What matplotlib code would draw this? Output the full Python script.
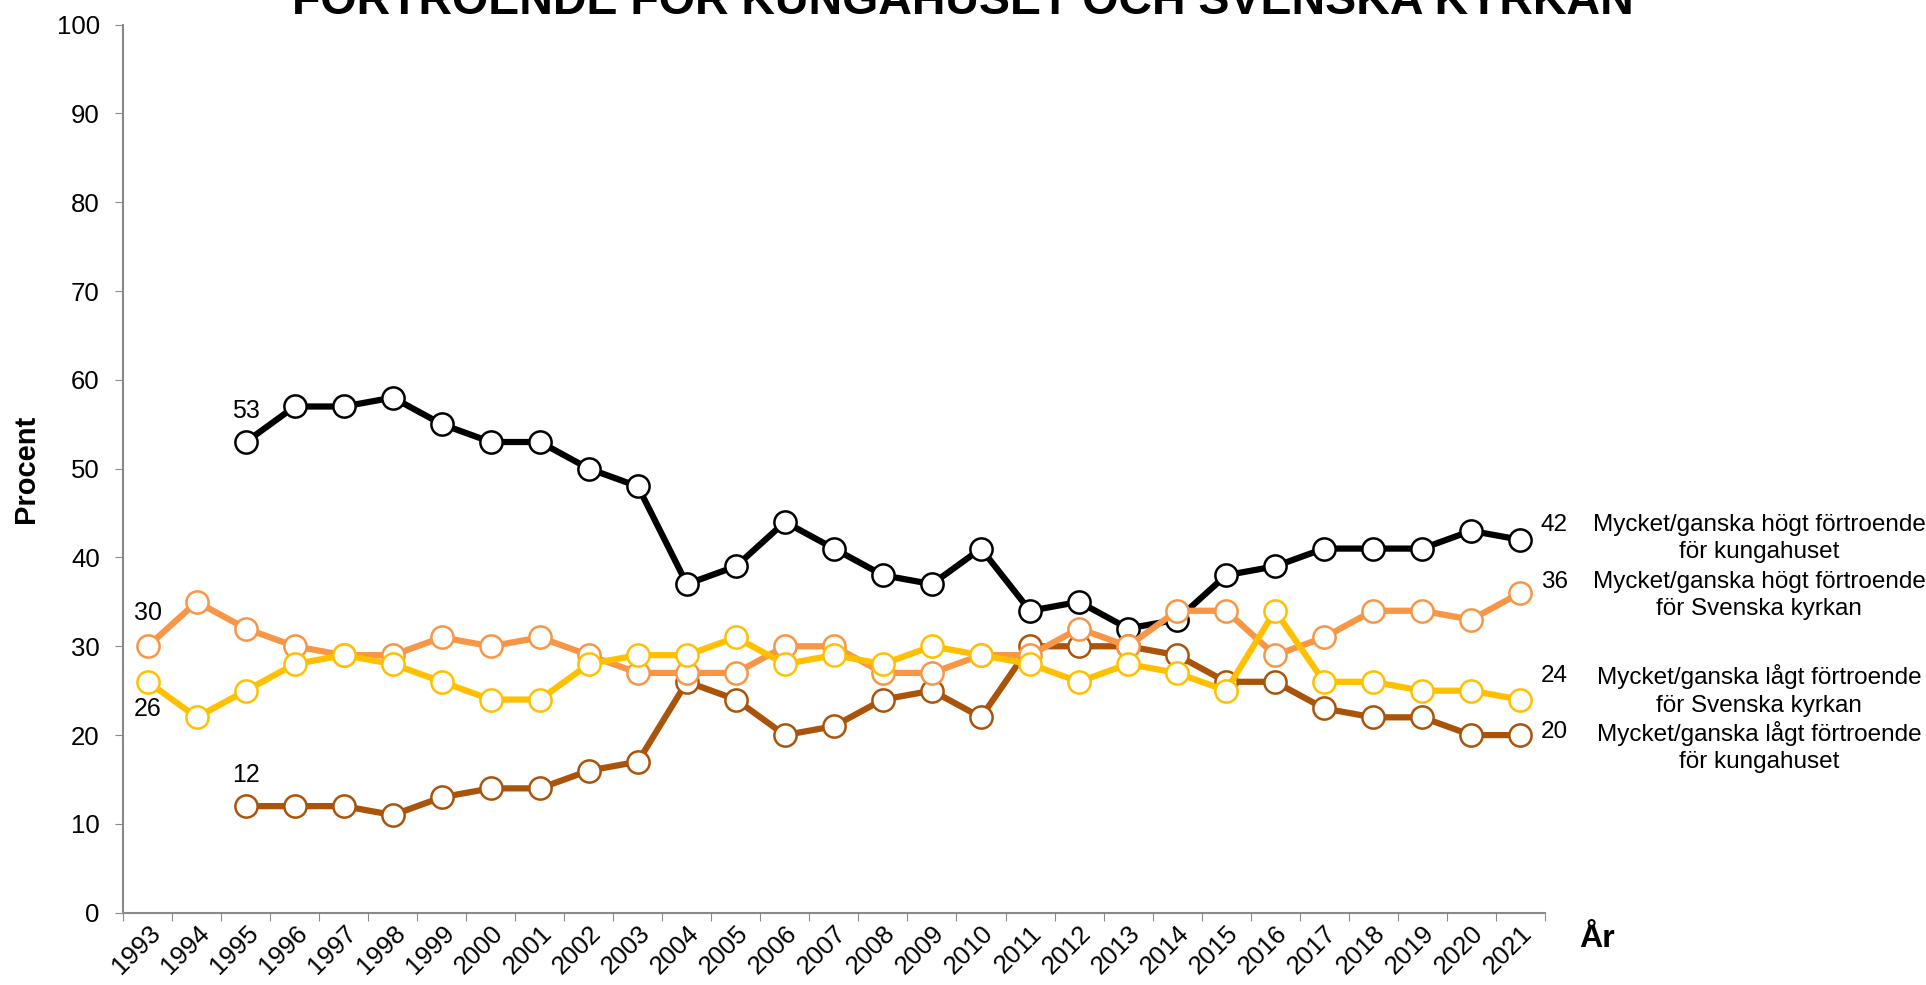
import numpy as np
import matplotlib.pyplot as plt
from matplotlib.ticker import FixedLocator

nan = np.nan

# Years on the category axis
years = [str(y) for y in range(1993, 2022)]

# Mycket/ganska högt förtroende för kungahuset
kung_hogt = [nan, nan, 53, 57, 57, 58, 55, 53, 53, 50, 48, 37, 39, 44, 41, 38,
             37, 41, 34, 35, 32, 33, 38, 39, 41, 41, 41, 43, 42]
# Mycket/ganska lågt förtroende för kungahuset
kung_lagt = [nan, nan, 12, 12, 12, 11, 13, 14, 14, 16, 17, 26, 24, 20, 21, 24,
             25, 22, 30, 30, 30, 29, 26, 26, 23, 22, 22, 20, 20]
# Mycket/ganska högt förtroende för Svenska kyrkan
kyrka_hogt = [30, 35, 32, 30, 29, 29, 31, 30, 31, 29, 27, 27, 27, 30, 30, 27,
              27, 29, 29, 32, 30, 34, 34, 29, 31, 34, 34, 33, 36]
# Mycket/ganska lågt förtroende för Svenska kyrkan
kyrka_lagt = [26, 22, 25, 28, 29, 28, 26, 24, 24, 28, 29, 29, 31, 28, 29, 28,
              30, 29, 28, 26, 28, 27, 25, 34, 26, 26, 25, 25, 24]

# right-hand labels: text, series, height (in percent units) of the label row
right_labels = [
    ("Mycket/ganska högt förtroende\nför kungahuset", kung_hogt, 43.7),
    ("Mycket/ganska högt förtroende\nför Svenska kyrkan", kyrka_hogt, 37.2),
    ("Mycket/ganska lågt förtroende\nför Svenska kyrkan", kyrka_lagt, 26.7),
    ("Mycket/ganska lågt förtroende\nför kungahuset", kung_lagt, 20.3),
]

plt.rcParams['font.family'] = ['Liberation Sans', 'DejaVu Sans']

fig = plt.figure(figsize=(19.26, 9.85), dpi=100)
ax = fig.add_axes([0.064, 0.0734, 0.738, 0.9016])

x = np.arange(len(years))
series = [
    (kung_hogt, '#000000'),
    (kung_lagt, '#A9540A'),
    (kyrka_hogt, '#F79646'),
    (kyrka_lagt, '#FFC000'),
]
for vals, col in series:
    ax.plot(x, vals, color=col, lw=4.5, marker='o', ms=16,
            mfc='white', mec=col, mew=1.8, zorder=3)

ax.set_xlim(-0.5, len(years) - 0.5)
ax.set_ylim(0, 100)
ax.set_yticks(range(0, 101, 10))
ax.tick_params(axis='y', labelsize=18.5, length=6, color='#898989', pad=11)

# ticks between categories, labels at the centres
ax.xaxis.set_major_locator(FixedLocator(np.arange(-0.5, len(years), 1.0)))
ax.tick_params(axis='x', which='major', labelbottom=False, length=6,
               color='#898989')
ax.set_xticks(x, minor=True)
ax.set_xticklabels(years, minor=True, rotation=45, ha='right',
                   rotation_mode='anchor')
ax.tick_params(axis='x', which='minor', length=0, labelsize=18.5, pad=6)

for side in ['top', 'right']:
    ax.spines[side].set_visible(False)
for side in ['left', 'bottom']:
    ax.spines[side].set_color('#898989')
    ax.spines[side].set_linewidth(1.5)

ax.set_ylabel('Procent', fontsize=21, fontweight='bold', labelpad=12)
fig.text(0.829, 0.047, 'År', fontsize=23, fontweight='bold',
         ha='center', va='center')

# first-point labels
ax.annotate('53', (2, kung_hogt[2]), xytext=(0, 14), textcoords='offset points',
            ha='center', va='bottom', fontsize=18)
ax.annotate('12', (2, kung_lagt[2]), xytext=(0, 14), textcoords='offset points',
            ha='center', va='bottom', fontsize=18)
ax.annotate('30', (0, kyrka_hogt[0]), xytext=(0, 15), textcoords='offset points',
            ha='center', va='bottom', fontsize=18)
ax.annotate('26', (0, kyrka_lagt[0]), xytext=(0, -11), textcoords='offset points',
            ha='center', va='top', fontsize=18)

# end labels on the right (x offsets in points, 1 pt = 1.39 px here)
for text, vals, row in right_labels:
    ax.annotate(str(vals[-1]), (x[-1], row), xytext=(15, 0),
                textcoords='offset points', ha='left', va='center',
                fontsize=17.5, annotation_clip=False)
    ax.annotate(text, (x[-1], row), xytext=(172, 8),
                textcoords='offset points', ha='center', va='top',
                fontsize=17.5, annotation_clip=False, linespacing=1.3)

fig.text(0.5, 0.986, 'FÖRTROENDE FÖR KUNGAHUSET OCH SVENSKA KYRKAN',
         ha='center', va='baseline', fontsize=33.5, fontweight='bold')

fig.savefig('out.png', dpi=100)
